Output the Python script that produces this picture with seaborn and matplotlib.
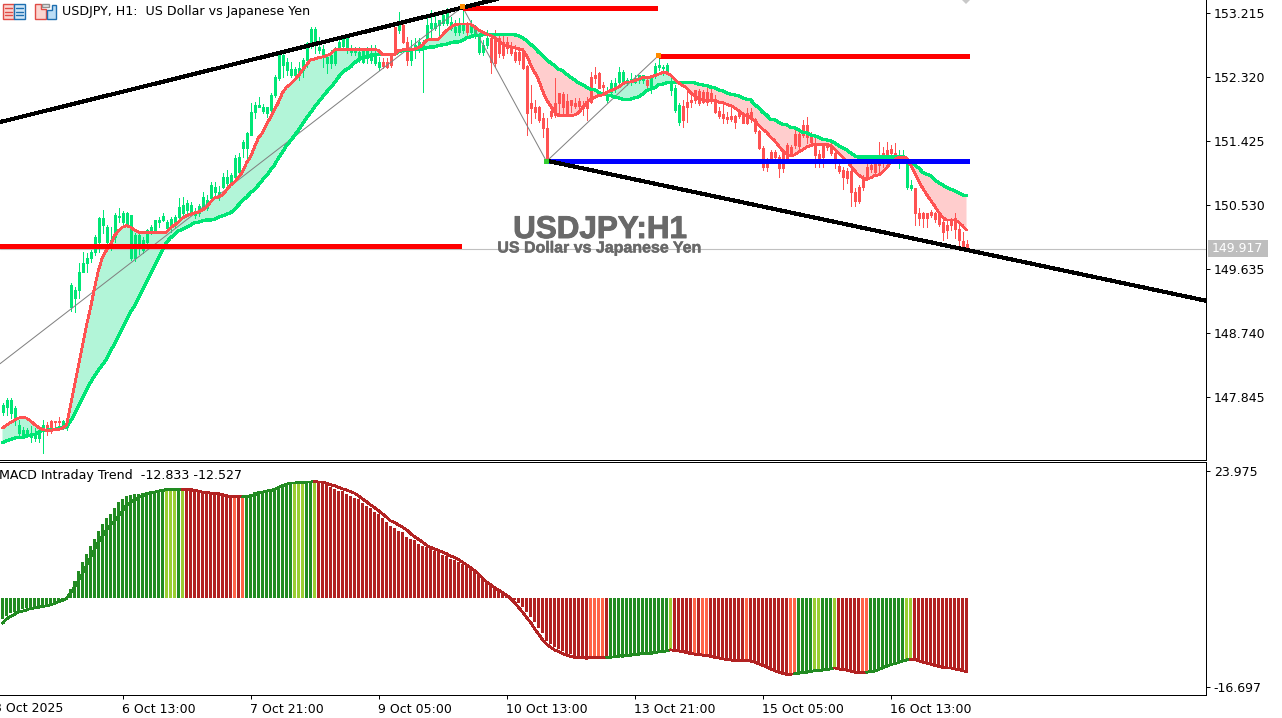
import numpy as np
import pandas as pd
import matplotlib
matplotlib.use("Agg")
import matplotlib.pyplot as plt
import matplotlib.patheffects as pe
from matplotlib.patches import Rectangle, Polygon
import seaborn as sns

# USDJPY H1 candles
highs = [147.76,147.83,147.83,147.72,147.52,147.42,147.41,147.44,147.41,147.41,
 147.53,147.49,147.53,147.51,147.56,147.53,147.52,149.44,149.38,149.72,
 149.87,149.86,149.90,150.11,150.36,150.46,150.25,150.22,150.42,150.49,
 150.45,150.43,150.39,150.14,150.14,150.08,150.19,150.25,150.32,150.36,
 150.42,150.32,150.36,150.39,150.63,150.64,150.60,150.57,150.49,150.54,
 150.71,150.67,150.85,150.85,150.80,150.98,151.02,150.98,151.23,151.26,
 151.44,151.55,151.96,151.97,152.04,151.94,151.90,152.10,152.35,152.66,
 152.66,152.59,152.53,152.46,152.53,152.59,152.81,153.02,153.02,152.88,
 152.77,152.63,152.70,152.74,152.88,152.88,152.91,152.77,152.74,152.74,
 152.73,152.74,152.77,152.77,152.60,152.59,152.59,152.66,153.02,153.23,
 153.12,152.88,152.84,152.87,152.87,152.84,153.15,153.26,153.19,153.12,
 153.23,153.29,153.16,153.12,153.15,153.30,153.09,153.12,153.05,152.94,
 152.84,152.98,152.94,152.98,152.94,152.94,152.88,152.81,152.77,152.74,
 152.73,152.49,152.21,152.00,151.92,151.82,151.75,151.89,152.31,152.10,
 152.11,152.08,152.00,152.03,152.03,151.99,152.04,152.39,152.46,152.39,
 152.25,152.18,152.28,152.31,152.46,152.42,152.31,152.38,152.35,152.35,
 152.35,152.31,152.35,152.52,152.63,152.49,152.52,152.32,152.21,151.96,
 152.00,152.11,152.10,152.14,152.15,152.14,152.17,152.17,152.07,151.90,
 151.96,151.83,151.89,151.79,151.83,151.83,151.89,151.89,151.75,151.58,
 151.36,151.19,151.30,151.30,151.23,151.26,151.40,151.37,151.58,151.58,
 151.72,151.76,151.55,151.47,151.30,151.37,151.38,151.40,151.30,151.16,
 151.06,151.05,151.09,150.77,150.81,150.95,151.13,151.13,151.23,151.41,
 151.34,151.41,151.37,151.40,151.30,151.30,151.20,150.88,150.77,150.49,
 150.43,150.42,150.46,150.43,150.43,150.32,150.32,150.35,150.42,150.25,
 150.15,150.04]
lows = [147.59,147.59,147.55,147.45,147.28,147.27,147.28,147.21,147.23,147.21,
 147.06,147.32,147.34,147.41,147.46,147.44,147.39,149.05,149.03,149.23,
 149.59,149.59,149.73,149.83,149.87,150.14,149.94,149.90,150.01,150.29,
 150.26,150.22,149.76,149.75,149.84,149.86,149.98,150.12,150.15,150.22,
 150.31,150.18,150.15,150.21,150.33,150.36,150.42,150.39,150.35,150.38,
 150.47,150.46,150.60,150.63,150.60,150.77,150.81,150.81,150.91,150.94,
 151.20,151.16,151.51,151.75,151.90,151.82,151.76,151.76,152.04,152.28,
 152.32,152.35,152.32,152.28,152.28,152.32,152.46,152.73,152.66,152.66,
 152.46,152.38,152.45,152.49,152.70,152.73,152.66,152.63,152.63,152.53,
 152.52,152.52,152.52,152.49,152.42,152.45,152.45,152.46,152.66,152.94,
 152.80,152.49,152.49,152.59,152.67,152.11,152.84,152.88,152.98,152.91,
 153.05,153.05,152.98,152.91,152.91,152.94,152.91,152.92,152.87,152.64,
 152.63,152.73,152.38,152.46,152.60,152.59,152.66,152.63,152.53,152.50,
 152.43,151.51,151.68,151.75,151.69,151.48,151.13,151.75,151.76,151.78,
 151.82,151.79,151.83,151.89,151.89,151.79,151.72,151.96,152.24,152.17,
 152.11,151.97,152.04,152.11,152.24,152.24,152.21,152.21,152.24,152.24,
 152.24,152.18,152.10,152.31,152.42,152.35,152.38,152.07,151.83,151.65,
 151.62,151.69,151.90,151.96,151.93,151.96,151.93,151.96,151.82,151.75,
 151.68,151.68,151.71,151.61,151.75,151.68,151.66,151.69,151.54,151.31,
 151.02,151.01,151.12,151.16,150.92,150.99,151.16,151.23,151.33,151.30,
 151.48,151.40,151.38,151.06,151.06,151.06,151.30,151.23,151.05,150.98,
 150.75,150.84,150.52,150.52,150.56,150.74,150.88,150.99,150.95,150.99,
 151.06,151.19,151.23,151.16,151.05,151.16,150.75,150.74,150.25,150.25,
 150.22,150.22,150.36,150.29,150.24,150.04,150.07,150.18,150.07,149.93,
 149.93,149.92]
opens = [147.63,147.70,147.62,147.55,147.34,147.32,147.32,147.28,147.27,147.27,
 147.37,147.45,147.51,147.51,147.51,147.45,147.45,149.10,149.23,149.34,
 149.59,149.72,149.79,149.87,150.01,150.25,150.01,149.97,150.08,150.36,
 150.29,150.25,149.79,149.79,150.00,149.90,150.01,150.15,150.18,150.29,
 150.32,150.21,150.22,150.26,150.36,150.42,150.46,150.42,150.39,150.42,
 150.50,150.49,150.63,150.71,150.64,150.78,150.84,150.84,150.92,150.99,
 151.33,151.33,151.51,151.83,151.90,151.85,151.82,151.86,152.07,152.31,
 152.49,152.42,152.35,152.35,152.35,152.42,152.56,152.80,152.80,152.70,
 152.60,152.52,152.52,152.52,152.74,152.76,152.73,152.67,152.67,152.60,
 152.53,152.59,152.56,152.52,152.46,152.53,152.53,152.63,153.02,152.98,
 153.05,152.81,152.56,152.70,152.73,152.73,152.87,153.01,153.01,153.05,
 153.08,153.08,153.01,152.95,152.95,152.98,153.05,152.95,152.91,152.67,
 152.67,152.77,152.87,152.87,152.87,152.81,152.81,152.74,152.67,152.67,
 152.70,152.48,151.96,151.90,151.90,151.75,151.61,151.85,151.96,152.10,
 152.08,151.99,152.00,151.96,151.99,151.93,151.97,152.32,152.35,152.38,
 152.21,152.00,152.11,152.17,152.25,152.25,152.24,152.25,152.25,152.28,
 152.28,152.28,152.17,152.35,152.46,152.45,152.39,152.14,151.86,151.69,
 151.92,151.97,152.00,152.14,152.13,152.11,152.11,152.10,152.01,151.85,
 151.80,151.76,151.78,151.78,151.82,151.78,151.82,151.83,151.73,151.57,
 151.33,151.10,151.27,151.27,151.20,151.26,151.37,151.34,151.52,151.52,
 151.65,151.65,151.48,151.40,151.24,151.36,151.36,151.36,151.26,151.08,
 151.02,151.01,151.01,150.71,150.78,150.91,151.06,151.09,151.10,151.19,
 151.26,151.30,151.31,151.26,151.13,151.19,150.78,150.77,150.77,150.42,
 150.42,150.42,150.43,150.42,150.42,150.29,150.25,150.32,150.35,150.19,
 150.03,149.98]
closes = [147.74,147.81,147.80,147.69,147.45,147.38,147.38,147.34,147.31,147.38,
 147.45,147.37,147.37,147.49,147.49,147.51,147.51,149.41,149.34,149.59,
 149.72,149.79,149.87,150.08,150.35,150.35,150.22,150.04,150.39,150.38,
 150.42,150.42,150.39,150.11,150.11,150.04,150.18,150.22,150.32,150.32,
 150.38,150.29,150.33,150.36,150.50,150.53,150.56,150.53,150.42,150.52,
 150.64,150.60,150.81,150.78,150.71,150.92,150.92,150.95,151.19,151.20,
 151.41,151.54,151.83,151.93,151.93,151.90,151.90,152.07,152.32,152.63,
 152.63,152.53,152.43,152.43,152.45,152.56,152.80,152.99,152.99,152.74,
 152.71,152.60,152.63,152.70,152.81,152.85,152.87,152.71,152.70,152.67,
 152.70,152.70,152.66,152.63,152.53,152.48,152.46,152.49,152.66,153.05,
 152.81,152.56,152.70,152.77,152.81,152.81,153.05,153.08,153.08,153.12,
 153.19,153.22,153.09,153.02,153.08,153.05,152.95,153.05,153.02,152.88,
 152.77,152.87,152.53,152.52,152.66,152.63,152.73,152.66,152.56,152.56,
 152.45,151.82,151.89,151.83,151.72,151.61,151.16,151.78,151.79,151.96,
 151.90,151.82,151.93,151.92,151.92,151.89,151.89,151.97,152.31,152.17,
 152.18,152.07,152.24,152.24,152.39,152.39,152.28,152.29,152.31,152.35,
 152.35,152.21,152.31,152.48,152.49,152.46,152.49,152.24,152.17,151.93,
 151.72,151.90,151.97,152.00,151.96,151.97,151.97,152.00,151.83,151.78,
 151.75,151.73,151.73,151.69,151.78,151.68,151.68,151.75,151.57,151.33,
 151.06,151.06,151.19,151.20,151.05,151.05,151.19,151.26,151.37,151.36,
 151.51,151.48,151.41,151.23,151.19,151.20,151.34,151.26,151.12,151.01,
 150.92,150.91,150.71,150.59,150.59,150.78,150.92,151.03,150.99,151.09,
 151.16,151.23,151.26,151.19,151.20,151.23,151.12,150.81,150.42,150.35,
 150.35,150.35,150.39,150.33,150.26,150.15,150.18,150.25,150.19,150.04,
 149.96,149.93]

# fast and slow moving averages
fast_ma = [147.41,147.45,147.49,147.52,147.55,147.56,147.55,147.51,147.46,147.42,
 147.39,147.38,147.38,147.39,147.39,147.41,147.45,147.73,148.01,148.29,
 148.57,148.85,149.09,149.37,149.62,149.80,149.90,149.97,150.10,150.17,
 150.22,150.24,150.22,150.18,150.15,150.14,150.14,150.14,150.14,150.14,
 150.14,150.15,150.21,150.25,150.29,150.35,150.38,150.40,150.42,150.43,
 150.46,150.50,150.57,150.63,150.64,150.67,150.74,150.81,150.85,150.92,
 150.99,151.12,151.20,151.34,151.47,151.54,151.65,151.76,151.86,151.97,
 152.10,152.18,152.22,152.28,152.34,152.42,152.49,152.56,152.57,152.59,
 152.60,152.62,152.64,152.70,152.71,152.71,152.71,152.71,152.71,152.70,
 152.70,152.71,152.71,152.71,152.69,152.63,152.63,152.63,152.63,152.69,
 152.70,152.71,152.71,152.71,152.73,152.77,152.83,152.85,152.85,152.85,
 152.91,152.97,153.01,153.05,153.06,153.06,153.06,153.06,153.02,152.98,
 152.95,152.92,152.90,152.87,152.83,152.78,152.76,152.74,152.73,152.71,
 152.70,152.62,152.50,152.39,152.28,152.13,152.00,151.92,151.83,151.78,
 151.78,151.78,151.78,151.79,151.82,151.89,151.96,152.01,152.03,152.06,
 152.07,152.10,152.13,152.15,152.18,152.22,152.25,152.25,152.27,152.29,
 152.31,152.31,152.32,152.34,152.36,152.38,152.38,152.35,152.29,152.24,
 152.20,152.17,152.10,152.06,152.01,152.00,151.99,151.99,151.99,151.97,
 151.96,151.94,151.92,151.89,151.85,151.80,151.78,151.75,151.71,151.65,
 151.59,151.55,151.48,151.43,151.36,151.29,151.24,151.22,151.23,151.27,
 151.30,151.34,151.36,151.38,151.38,151.38,151.38,151.36,151.31,151.26,
 151.20,151.15,151.08,151.01,150.95,150.91,150.89,150.91,150.94,150.95,
 150.99,151.05,151.12,151.16,151.20,151.20,151.19,151.09,150.98,150.87,
 150.77,150.68,150.60,150.52,150.43,150.36,150.32,150.32,150.32,150.29,
 150.24,150.18]
slow_ma = [147.21,147.23,147.25,147.27,147.28,147.28,147.30,147.31,147.32,147.35,
 147.38,147.38,147.39,147.39,147.41,147.41,147.42,147.51,147.60,147.72,
 147.83,147.94,148.05,148.14,148.22,148.30,148.37,148.49,148.58,148.70,
 148.81,148.92,149.03,149.12,149.23,149.34,149.45,149.56,149.68,149.79,
 149.90,150.01,150.07,150.12,150.17,150.19,150.22,150.25,150.28,150.29,
 150.31,150.32,150.32,150.33,150.36,150.38,150.40,150.42,150.47,150.53,
 150.59,150.64,150.70,150.75,150.81,150.88,150.94,151.02,151.09,151.19,
 151.27,151.36,151.43,151.50,151.58,151.66,151.75,151.82,151.90,151.97,
 152.04,152.11,152.17,152.24,152.32,152.38,152.43,152.46,152.52,152.56,
 152.59,152.60,152.62,152.63,152.63,152.63,152.64,152.64,152.64,152.67,
 152.69,152.69,152.70,152.70,152.70,152.71,152.73,152.74,152.74,152.76,
 152.77,152.78,152.80,152.81,152.81,152.83,152.87,152.88,152.90,152.90,
 152.91,152.91,152.91,152.91,152.91,152.91,152.91,152.91,152.91,152.90,
 152.87,152.83,152.78,152.73,152.67,152.62,152.56,152.52,152.48,152.43,
 152.41,152.36,152.32,152.28,152.24,152.21,152.18,152.15,152.14,152.11,
 152.08,152.07,152.06,152.04,152.03,152.01,152.01,152.01,152.03,152.04,
 152.08,152.13,152.15,152.17,152.21,152.22,152.24,152.24,152.24,152.24,
 152.24,152.24,152.24,152.24,152.22,152.21,152.20,152.18,152.17,152.14,
 152.13,152.10,152.08,152.07,152.06,152.03,152.01,152.00,151.94,151.89,
 151.83,151.79,151.73,151.72,151.69,151.66,151.65,151.62,151.61,151.58,
 151.55,151.54,151.51,151.50,151.48,151.45,151.44,151.43,151.40,151.36,
 151.33,151.30,151.26,151.22,151.20,151.20,151.20,151.20,151.20,151.20,
 151.20,151.20,151.20,151.20,151.20,151.20,151.17,151.13,151.09,151.05,
 150.99,150.96,150.94,150.89,150.84,150.81,150.78,150.75,150.73,150.70,
 150.67,150.66]

# MACD Intraday Trend pane
macd_hist = [-3.8,-3.3,-2.8,-2.5,-2.3,-2.0,-1.8,-1.7,-1.6,-1.4,-1.3,-1.1,-0.9,-0.6,-0.4,-0.3,-0.1,
 1.8,3.3,5.1,6.8,8.4,9.8,11.2,12.7,14.0,15.1,15.9,17.0,18.1,18.7,19.2,19.5,19.7,19.7,19.8,20.0,20.2,20.3,20.4,
 20.5,20.5,20.5,20.5,20.5,20.5,20.5,20.4,20.3,20.2,20.1,20.0,19.8,19.8,19.7,19.7,19.5,19.2,19.0,19.0,19.0,
 19.2,19.7,20.0,20.2,20.3,20.3,20.5,20.7,21.1,21.5,21.7,21.7,21.8,21.8,21.8,21.9,22.0,22.0,21.9,21.7,21.6,21.0,
 20.6,20.3,20.2,19.7,19.2,18.9,18.7,17.9,17.3,17.0,16.3,15.9,15.1,14.3,13.7,13.2,12.7,12.4,11.6,11.2,10.9,10.2,
 9.8,9.6,9.3,9.0,8.7,8.2,7.9,7.4,7.2,6.8,6.5,6.2,5.7,5.4,4.7,3.8,3.3,2.7,2.4,1.6,1.3,0.8,0.2,-0.3,-0.9,-1.6,
 -2.6,-3.6,-4.5,-5.5,-6.6,-8.0,-8.6,-9.1,-9.5,-10.0,-10.4,-10.5,-10.8,-11.2,-11.4,-11.6,-11.3,-11.3,-11.3,-11.3,
 -11.1,-11.3,-11.2,-11.2,-11.2,-11.1,-11.0,-10.9,-10.8,-10.7,-10.6,-10.6,-10.3,-10.2,-10.0,-9.9,
 -9.7,-9.8,-10.0,-10.2,-10.4,-10.7,-10.5,-10.7,-10.7,-10.9,-10.8,-11.0,-11.2,-11.3,-11.5,-11.5,-11.7,-11.8,-11.7,
 -11.7,-11.8,-12.0,-12.4,-12.7,-13.1,-13.4,-13.8,-14.1,-14.3,-14.4,-14.3,-14.2,-14.0,-14.0,-13.9,-13.7,-13.5,-13.5,
 -13.5,-13.4,-13.4,-13.1,-13.4,-13.4,-13.5,-13.8,-13.9,-14.1,-14.3,-14.0,-13.9,-13.8,-13.5,-13.3,-12.9,-12.4,-12.1,
 -12.0,-11.7,-11.6,-11.4,-11.5,-11.8,-12.1,-12.4,-12.6,-12.7,-12.9,-13.3,-13.3,-13.3,-13.4,-13.5,-13.7,-14.0]
macd_signal = [-4.7,-3.9,-3.4,-3.0,-2.6,-2.4,-2.2,-1.9,-1.8,-1.7,-1.5,-1.4,-1.2,-1.0,-0.6,-0.4,0.0,
 1.0,2.1,3.3,4.7,6.2,7.7,9.2,10.6,11.7,12.9,13.8,14.5,15.4,16.5,17.5,18.0,18.5,19.0,19.3,19.7,19.9,20.0,20.2,20.3,
 20.5,20.5,20.5,20.5,20.5,20.5,20.5,20.3,20.2,20.0,20.0,19.8,19.8,19.7,19.5,19.3,19.2,19.2,19.1,19.1,
 19.2,19.3,19.5,19.8,20.0,20.2,20.3,20.5,20.9,21.2,21.5,21.7,21.7,21.8,21.8,21.9,21.9,22.0,21.9,21.9,21.7,
 21.4,21.2,20.9,20.6,20.4,20.1,19.8,19.3,18.7,18.2,17.6,17.1,16.5,15.9,15.3,14.6,14.3,13.8,13.4,12.9,12.2,11.6,
 11.1,10.6,10.0,9.6,9.3,9.0,8.7,8.4,8.0,7.7,7.3,6.8,6.3,5.8,5.2,4.6,3.8,3.1,2.6,2.0,1.6,1.1,0.6,0.0,-0.8,-1.7,-2.6,
 -3.6,-4.5,-5.7,-6.7,-7.8,-8.6,-9.2,-9.7,-10.0,-10.4,-10.7,-10.9,-11.1,-11.1,-11.2,-11.2,-11.2,-11.2,-11.2,-11.1,
 -11.1,-11.1,-11.0,-10.9,-10.8,-10.7,-10.7,-10.6,-10.5,-10.4,-10.3,-10.4,-10.2,-10.1,-10.0,-9.9,-9.7,-9.8,-9.9,
 -10.0,-10.2,-10.4,-10.5,-10.5,-10.7,-10.7,-10.9,-11.1,-11.2,-11.4,-11.5,-11.6,-11.7,-11.7,-11.7,-11.7,-11.8,-12.0,
 -12.3,-12.6,-12.9,-13.3,-13.6,-13.9,-14.1,-14.3,-14.3,-14.2,-14.1,-14.0,-13.9,-13.8,-13.6,-13.6,-13.5,-13.4,-13.3,
 -13.1,-13.3,-13.4,-13.5,-13.7,-13.9,-14.0,-14.0,-13.9,-13.8,-13.7,-13.4,-13.1,-12.8,-12.5,-12.3,-12.1,-11.8,-11.6,
 -11.5,-11.5,-11.7,-12.0,-12.2,-12.4,-12.6,-12.8,-12.9,-13.1,-13.1,-13.3,-13.4,-13.6,-13.8]
# bar state runs: G rising, L rising weak, R falling, O falling weak
state_runs = [("G",41),("L",3),("G",1),("L",1),("R",12),("O",1),("R",1),("O",1),("G",12),("L",3),("G",2),("L",1),
 ("R",68),("O",4),("R",1),("G",15),("L",1),("R",5),("O",1),("R",1),("O",2),("R",9),("O",1),("R",10),("O",2),
 ("G",4),("L",2),("G",3),("L",1),("R",6),("O",2),("G",9),("L",2),("R",14)]

# drawn objects on the price pane
trend_up_bars = [-0.625, 125]
trend_up_prices = [151.69, 153.43]
trend_down_bars = [136, 301]
trend_down_prices = [151.15, 149.19]
zigzag_bars = [-0.625, 115, 136, 164]
zigzag_prices = [148.31, 153.30, 151.14, 152.62]
level_prices = [149.96, 153.29, 152.62, 151.14]
level_starts = [-0.625, 115, 164, 136]
level_ends = [114.7, 163.5, 241.5, 241.5]
level_colors = ["#FF0000", "#FF0000", "#FF0000", "#0000FF"]
last_price = 149.917

price_ticks = [153.215, 152.320, 151.425, 150.530, 149.635, 148.740, 147.845]
macd_ticks = [23.975, -16.697]
time_ticks = [30, 62, 94, 126, 158, 190, 222]
time_labels = ["6 Oct 13:00", "7 Oct 21:00", "9 Oct 05:00", "10 Oct 13:00",
               "13 Oct 21:00", "15 Oct 05:00", "16 Oct 13:00"]
first_time_label = "3 Oct 2025"

GREEN = "#00E676"
RED = "#FF5252"
STATE_COLORS = {"G": "#228B22", "L": "#9ACD32", "R": "#B22222", "O": "#FF6347"}

sns.set_theme(style="white")
plt.rcParams["font.family"] = ["DejaVu Sans"]
plt.rcParams["font.size"] = 9

W, H = 1282, 718
fig = plt.figure(figsize=(W / 100, H / 100), dpi=100, facecolor="white")
ax = fig.add_axes([0, (H - 460) / H, 1206 / W, 460 / H])
ax2 = fig.add_axes([0, (H - 695) / H, 1206 / W, (695 - 462) / H])

bars = np.arange(len(opens))
fast_ma = np.array(fast_ma)
slow_ma = np.array(slow_ma)
candles = pd.DataFrame({"bar": bars, "open": opens, "close": closes, "high": highs, "low": lows})
candles["color"] = np.where(candles["close"] >= candles["open"], GREEN, RED)

# --- price pane ---
ax.fill_between(bars, fast_ma, slow_ma, where=fast_ma >= slow_ma, interpolate=True,
                color="#B2F5D8", linewidth=0, zorder=1)
ax.fill_between(bars, fast_ma, slow_ma, where=fast_ma <= slow_ma, interpolate=True,
                color="#FFCDCD", linewidth=0, zorder=1)
ax.axhline(last_price, color="#C0C0C0", linewidth=0.8, zorder=1)

ax.vlines(candles["bar"], candles["low"], candles["high"], colors=candles["color"],
          linewidth=0.72, antialiased=False, zorder=2)
# bodies as 3 px strokes, keeps the width even
ax.vlines(candles["bar"], candles["open"], candles["close"], colors=candles["color"],
          linewidth=2.16, antialiased=False, zorder=2)

sns.lineplot(x=zigzag_bars, y=zigzag_prices, color="#808080", linewidth=0.72, estimator=None,
             ax=ax, zorder=2.5)
sns.lineplot(x=bars, y=slow_ma, color=GREEN, linewidth=1.6, estimator=None, antialiased=False,
             ax=ax, zorder=3)
sns.lineplot(x=bars, y=fast_ma, color=RED, linewidth=1.3, estimator=None, antialiased=False,
             ax=ax, zorder=3.1)

ax.hlines(level_prices, level_starts, level_ends, colors=level_colors, linewidth=3.3,
          antialiased=False, zorder=4)
sns.lineplot(x=trend_up_bars, y=trend_up_prices, color="black", linewidth=2.2, estimator=None,
             antialiased=False, ax=ax, zorder=5)
sns.lineplot(x=trend_down_bars, y=trend_down_prices, color="black", linewidth=2.2, estimator=None,
             antialiased=False, ax=ax, zorder=5)
ax.scatter(zigzag_bars[1:], zigzag_prices[1:], marker="s", s=13, linewidths=0,
           color=["#FF8C00", "#32CD32", "#FF8C00"], zorder=6)

# 4 px per bar, 0.013984 per px
ax.set_xticks([])
ax.yaxis.tick_right()
ax.set_yticks(price_ticks, [f"{t:.3f}" for t in price_ticks])
ax.set_xlim(-0.625, 300.875)
ax.set_ylim(146.964, 153.397)

# --- MACD pane ---
states = [s for s, n in state_runs for _ in range(n)]
macd_df = pd.DataFrame({"bar": bars, "hist": macd_hist, "signal": macd_signal, "state": states})
sns.barplot(data=macd_df, x="bar", y="hist", hue="state", palette=STATE_COLORS, native_scale=True,
            dodge=False, width=0.92, saturation=1, errorbar=None, legend=False, linewidth=0, ax=ax2)
for patch in ax2.patches:
    patch.set_antialiased(False)

# signal line follows the bar colours
rising = macd_df["state"].isin(["G", "L"])
groups = (rising != rising.shift()).cumsum()
for _, part in macd_df.groupby(groups):
    seg = macd_df.iloc[max(part.index[0] - 1, 0):part.index[-1] + 1]
    color = STATE_COLORS["G"] if part["state"].iloc[0] in "GL" else STATE_COLORS["R"]
    sns.lineplot(x=seg["bar"].values, y=seg["signal"].values, color=color, linewidth=1.3,
                 estimator=None, antialiased=False, ax=ax2, zorder=5)

ax2.set_xlabel("")
ax2.set_ylabel("")
ax2.yaxis.tick_right()
ax2.set_yticks(macd_ticks, [f"{t:.3f}" for t in macd_ticks])
ax2.set_xticks(time_ticks, time_labels)
for label in ax2.get_xticklabels():
    label.set_ha("left")
ax2.set_xlim(-0.625, 300.875)
ax2.set_ylim(-18.20, 25.67)

for a in (ax, ax2):
    a.grid(False)
    a.set_facecolor("white")
    a.tick_params(axis="both", length=3, width=0.72, color="black", labelcolor="black",
                  labelsize=9, pad=2.5, bottom=a is ax2, right=True, left=False)
    for side in a.spines:
        a.spines[side].set_color("black")
        a.spines[side].set_linewidth(0.72)
    a.spines["left"].set_visible(False)
ax.spines["top"].set_visible(False)

# --- overlay: header text, watermark, price tag, icons (pixel coordinates) ---
over = fig.add_axes([0, 0, 1, 1], zorder=10)
over.set_xlim(0, W)
over.set_ylim(H, 0)
over.axis("off")
over.patch.set_alpha(0)

over.text(62, 12, "USDJPY, H1:  US Dollar vs Japanese Yen", fontsize=9.1, va="center", ha="left", color="black")
over.text(-1, 475, "MACD Intraday Trend  -12.833 -12.527", fontsize=9.1, va="center", ha="left", color="black")
over.text(-6, 708, first_time_label, fontsize=9, va="center", ha="left", color="black", clip_on=False)
over.text(600, 230, "USDJPY:H1", family="Liberation Sans", fontweight="bold", fontsize=22.6,
          color="#696969", va="center", ha="center",
          path_effects=[pe.withStroke(linewidth=0.7, foreground="#696969")])
over.text(600, 248, "US Dollar vs Japanese Yen", family="Liberation Sans", fontweight="bold", fontsize=11.5,
          color="#696969", va="center", ha="center",
          path_effects=[pe.withStroke(linewidth=0.3, foreground="#696969")])
over.add_patch(Rectangle((1208, 240), 60, 17, color="#BEBEBE", linewidth=0))
over.text(1212, 248.5, f"{last_price:.3f}", fontsize=9, color="white", va="center", ha="left")
over.add_patch(Polygon([(962, 0), (970, 0), (966, 4)], closed=True, color="#C8C8C8", linewidth=0))

# toolbar icons
over.add_patch(Rectangle((3, 4), 11, 15, facecolor="#FBD5D0", edgecolor="#E04B45", linewidth=1))
over.add_patch(Rectangle((14, 4), 10.5, 15, facecolor="#CFE6F7", edgecolor="#1E6FB0", linewidth=1))
for y in (8, 11.5, 15):
    over.plot([5, 12], [y, y], color="#E04B45", linewidth=1)
    over.plot([16, 23], [y, y], color="#1E6FB0", linewidth=1)
over.add_patch(Polygon([(35, 4), (41, 4), (41, 9), (46, 9), (46, 19), (35, 19)], closed=True,
                       facecolor="#FBD5D0", edgecolor="#E04B45", linewidth=1))
over.add_patch(Polygon([(47, 10), (52, 10), (52, 5), (56, 5), (56, 19), (47, 19)], closed=True,
                       facecolor="#BBDDF5", edgecolor="#1E6FB0", linewidth=1))
over.add_patch(Rectangle((42, 4), 7, 3, facecolor="#E8E8E8", edgecolor="#909090", linewidth=1))

fig.savefig("out.png", dpi=100)
